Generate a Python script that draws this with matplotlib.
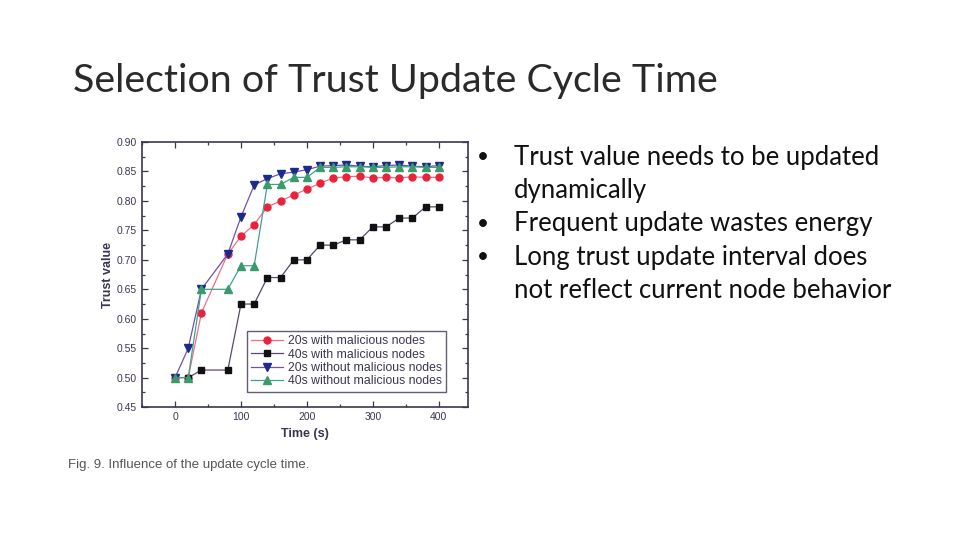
import matplotlib.pyplot as plt
from matplotlib.ticker import MultipleLocator

# series (time in s, trust value)
x_red = [0, 20, 40, 80, 100, 120, 140, 160, 180, 200, 220, 240, 260, 280, 300, 320, 340, 360, 380, 400]
y_red = [0.50, 0.50, 0.61, 0.71, 0.74, 0.76, 0.79, 0.80, 0.81, 0.82, 0.83, 0.839, 0.841, 0.842, 0.839, 0.840, 0.839, 0.841, 0.840, 0.840]

x_black = [20, 40, 80, 100, 120, 140, 160, 180, 200, 220, 240, 260, 280, 300, 320, 340, 360, 380, 400]
y_black = [0.50, 0.513, 0.513, 0.625, 0.625, 0.67, 0.67, 0.70, 0.70, 0.725, 0.725, 0.734, 0.734, 0.756, 0.756, 0.771, 0.771, 0.79, 0.79]

x_blue = [0, 20, 40, 80, 100, 120, 140, 160, 180, 200, 220, 240, 260, 280, 300, 320, 340, 360, 380, 400]
y_blue = [0.50, 0.55, 0.65, 0.71, 0.773, 0.827, 0.838, 0.846, 0.849, 0.853, 0.859, 0.860, 0.861, 0.859, 0.858, 0.860, 0.861, 0.859, 0.858, 0.860]

x_green = [0, 20, 40, 80, 100, 120, 140, 160, 180, 200, 220, 240, 260, 280, 300, 320, 340, 360, 380, 400]
y_green = [0.50, 0.50, 0.65, 0.65, 0.69, 0.69, 0.828, 0.828, 0.84, 0.84, 0.857, 0.857, 0.858, 0.858, 0.857, 0.857, 0.858, 0.858, 0.857, 0.857]

labels = ['20s with malicious nodes', '40s with malicious nodes',
          '20s without malicious nodes', '40s without malicious nodes']

# each bullet: list of its wrapped lines
bullets = [['Trust value needs to be updated', 'dynamically'],
           ['Frequent update wastes energy'],
           ['Long trust update interval does', 'not reflect current node behavior']]

axc = '#3d3550'

fig = plt.figure(figsize=(9.6, 5.4), dpi=100)
fig.text(0.076, 0.850, 'Selection of Trust Update Cycle Time', fontsize=28.4,
         family='Lato', fontweight='normal', va='center', color='#2a2a2a')

ax = fig.add_axes([0.148, 0.246, 0.340, 0.491])
ax.plot(x_red, y_red, '-o', color='#f07080', mfc='#e8243c', mec='#e8243c', ms=5, lw=0.9, label=labels[0])
ax.plot(x_black, y_black, '-s', color='#5a4a6a', mfc='#111111', mec='#111111', ms=4.8, lw=0.9, label=labels[1])
ax.plot(x_blue, y_blue, '-v', color='#7050b0', mfc='#1c2a8c', mec='#1c2a8c', ms=6, lw=0.9, label=labels[2])
ax.plot(x_green, y_green, '-^', color='#40a090', mfc='#3a9a6a', mec='#3a9a6a', ms=6, lw=0.9, label=labels[3])

ax.set_xlim(-50, 445)
ax.set_ylim(0.45, 0.90)
ax.xaxis.set_major_locator(MultipleLocator(100))
ax.xaxis.set_minor_locator(MultipleLocator(50))
ax.yaxis.set_major_locator(MultipleLocator(0.05))
ax.yaxis.set_minor_locator(MultipleLocator(0.025))
ax.tick_params(which='both', direction='in', top=True, right=True, colors=axc,
               labelsize=7.5, width=0.9)
ax.tick_params(which='major', length=4)
ax.tick_params(which='minor', length=2)
ax.yaxis.set_major_formatter(plt.FormatStrFormatter('%.2f'))
for lab in ax.get_xticklabels() + ax.get_yticklabels():
    lab.set_family('Liberation Sans')
for s in ax.spines.values():
    s.set_color(axc)
    s.set_linewidth(1.2)
ax.set_xlabel('Time (s)', fontsize=9, family='Liberation Sans', fontweight='bold', color=axc, labelpad=4)
ax.set_ylabel('Trust value', fontsize=9, family='Liberation Sans', fontweight='bold', color=axc, labelpad=2)

leg = ax.legend(loc='lower right', bbox_to_anchor=(0.95, 0.035),
                prop={'family': 'Liberation Sans', 'size': 8.8}, fancybox=False,
                handlelength=2.6, borderpad=0.35, labelspacing=0.12, handletextpad=0.4)
leg.get_frame().set_edgecolor(axc)
leg.get_frame().set_linewidth(1.0)
for t in leg.get_texts():
    t.set_color(axc)

fig.text(0.071, 0.139, 'Fig. 9. Influence of the update cycle time.', fontsize=9.5,
         family='Liberation Sans', color='#555555', va='center')

y0 = 1 - 157 / 540
dy = 33.5 / 540
row = 0
for item in bullets:
    fig.text(0.497, y0 - row * dy, '\u2022', fontsize=15, family='Lato', va='center', color='#111111')
    for line in item:
        fig.text(0.535, y0 - row * dy, line, fontsize=18.5, family='Lato', va='center', color='#111111')
        row += 1

fig.savefig('out.png', dpi=100)
